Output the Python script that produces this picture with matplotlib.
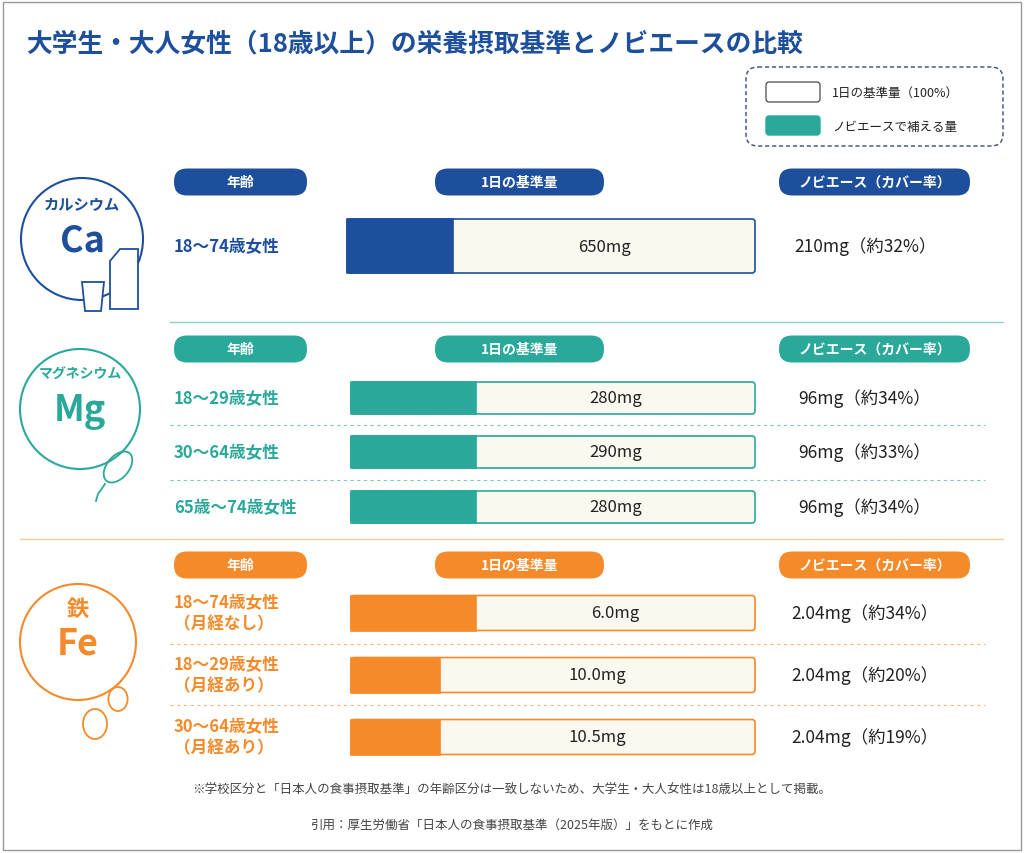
import matplotlib.pyplot as plt
from matplotlib.patches import FancyBboxPatch, Rectangle, Circle
import matplotlib.patches as mpatches

plt.rcParams['font.family'] = ['Noto Sans CJK JP', 'DejaVu Sans']

BLUE = '#1d4f9c'
TEAL = '#2aa99a'
ORANGE = '#f58a2a'
CREAM = '#fbf8f0'
GRAY = '#444444'

title = '大学生・大人女性（18歳以上）の栄養摂取基準とノビエースの比較'
ca_ages = ['18～74歳女性']
ca_base = ['650mg']
ca_cover = ['210mg（約32%）']
ca_fill = [0.26]
mg_ages = ['18～29歳女性', '30～64歳女性', '65歳～74歳女性']
mg_base = ['280mg', '290mg', '280mg']
mg_cover = ['96mg（約34%）', '96mg（約33%）', '96mg（約34%）']
mg_fill = [0.31, 0.31, 0.31]
fe_ages = ['18～74歳女性\n（月経なし）', '18～29歳女性\n（月経あり）', '30～64歳女性\n（月経あり）']
fe_base = ['6.0mg', '10.0mg', '10.5mg']
fe_cover = ['2.04mg（約34%）', '2.04mg（約20%）', '2.04mg（約19%）']
fe_fill = [0.31, 0.22, 0.22]

fig = plt.figure(figsize=(10.24, 8.54), dpi=100)
ax = fig.add_axes([0, 0, 1, 1])
ax.set_xlim(0, 1024)
ax.set_ylim(854, 0)
ax.axis('off')

ax.add_patch(Rectangle((3, 3), 1018, 848, fill=False, ec='#999999', lw=1))
ax.text(26, 44, title, fontsize=18.5, fontweight='bold', color=BLUE, va='center')

# legend
ax.add_patch(FancyBboxPatch((746, 68), 257, 79, boxstyle='round,pad=0,rounding_size=12',
                            fill=False, ec='#3a4a7a', ls=(0, (3, 2)), lw=1))
ax.add_patch(FancyBboxPatch((766, 83), 54, 20, boxstyle='round,pad=0,rounding_size=3',
                            fc='white', ec='#333333', lw=0.8))
ax.add_patch(FancyBboxPatch((766, 117), 54, 19, boxstyle='round,pad=0,rounding_size=3',
                            fc=TEAL, ec=TEAL))
ax.text(832, 93, '1日の基準量（100%）', fontsize=9, color='#222222', va='center')
ax.text(832, 127, 'ノビエースで補える量', fontsize=9, color='#222222', va='center')


def pill(x0, x1, yc, h, color, label):
    ax.add_patch(FancyBboxPatch((x0, yc - h / 2), x1 - x0, h,
                                boxstyle='round,pad=0,rounding_size=%d' % (h / 2),
                                fc=color, ec='none'))
    ax.text((x0 + x1) / 2, yc, label, fontsize=10, color='white', ha='center', va='center',
            fontweight='bold')


def section(color, hy, rows_y, bh, bx0, ages, base, cover, fill, seps, circ, names, nsize=11):
    pill(174, 307, hy, 27, color, '年齢')
    pill(435, 604, hy, 27, color, '1日の基準量')
    pill(779, 970, hy, 27, color, 'ノビエース（カバー率）')
    bx1 = 755
    for y, a, b, c, f in zip(rows_y, ages, base, cover, fill):
        ax.text(174, y, a, fontsize=12, color=color, va='center', fontweight='bold', linespacing=1.25)
        ax.add_patch(FancyBboxPatch((bx0, y - bh / 2), bx1 - bx0, bh,
                                    boxstyle='round,pad=0,rounding_size=3', fc=CREAM, ec=color, lw=1.2))
        ax.add_patch(Rectangle((bx0, y - bh / 2), (bx1 - bx0) * f, bh, fc=color, ec=color, lw=1.2))
        ax.text((bx0 + (bx1 - bx0) * f + bx1) / 2, y, b, fontsize=12, color='#222222',
                ha='center', va='center')
        ax.text(865, y, c, fontsize=12.5, color='#222222', ha='center', va='center')
    for s in seps:
        ax.plot([170, 985], [s, s], color=color, lw=0.8, ls=(0, (3, 3)), alpha=0.6)
    cx, cy, r = circ
    ax.add_patch(Circle((cx, cy), r, fill=False, ec=color, lw=1.5))
    ax.text(cx, cy - r * 0.58, names[0], fontsize=nsize, color=color, ha='center', va='center',
            fontweight='bold')
    ax.text(cx, cy + 0.02 * r, names[1], fontsize=26, color=color, ha='center', va='center',
            fontweight='bold')


section(BLUE, 183, [247], 54, 347, ca_ages, ca_base, ca_cover, ca_fill, [], (82, 240, 61),
        ['カルシウム', 'Ca'])
# milk carton and cup
ax.add_patch(mpatches.Polygon([[110, 262], [120, 250], [138, 250], [138, 310], [110, 310]],
                              fc='white', ec=BLUE, lw=1.3))
ax.add_patch(mpatches.Polygon([[82, 283], [104, 283], [101, 312], [85, 312]], fc='white', ec=BLUE, lw=1.3))
ax.plot([170, 1003], [323, 323], color='#8fd0c8', lw=1)

section(TEAL, 350, [399, 453, 508], 32, 351, mg_ages, mg_base, mg_cover, mg_fill, [426, 481],
        (80, 410, 60), ['マグネシウム', 'Mg'], nsize=10)
ax.add_patch(mpatches.Ellipse((118, 468), 22, 36, angle=40, fill=False, ec=TEAL, lw=1.3))
ax.plot([105, 98, 96], [485, 495, 502], color=TEAL, lw=1.3)
ax.plot([20, 1003], [540, 540], color='#f8c9a0', lw=1)

section(ORANGE, 566, [614, 676, 738], 35, 351, fe_ages, fe_base, fe_cover, fe_fill, [645, 706],
        (78, 643, 58), ['鉄', 'Fe'], nsize=16)
for dx, dy, s in [(95, 725, 1.0), (118, 700, 0.8)]:
    ax.add_patch(mpatches.Ellipse((dx, dy), 24 * s, 30 * s, fc='white', ec=ORANGE, lw=1.3))

ax.text(512, 790, '※学校区分と「日本人の食事摂取基準」の年齢区分は一致しないため、大学生・大人女性は18歳以上として掲載。',
        fontsize=9, color=GRAY, ha='center', va='center')
ax.text(512, 825, '引用：厚生労働省「日本人の食事摂取基準（2025年版）」をもとに作成',
        fontsize=9, color=GRAY, ha='center', va='center')

fig.savefig('out.png', dpi=100, facecolor='white')
